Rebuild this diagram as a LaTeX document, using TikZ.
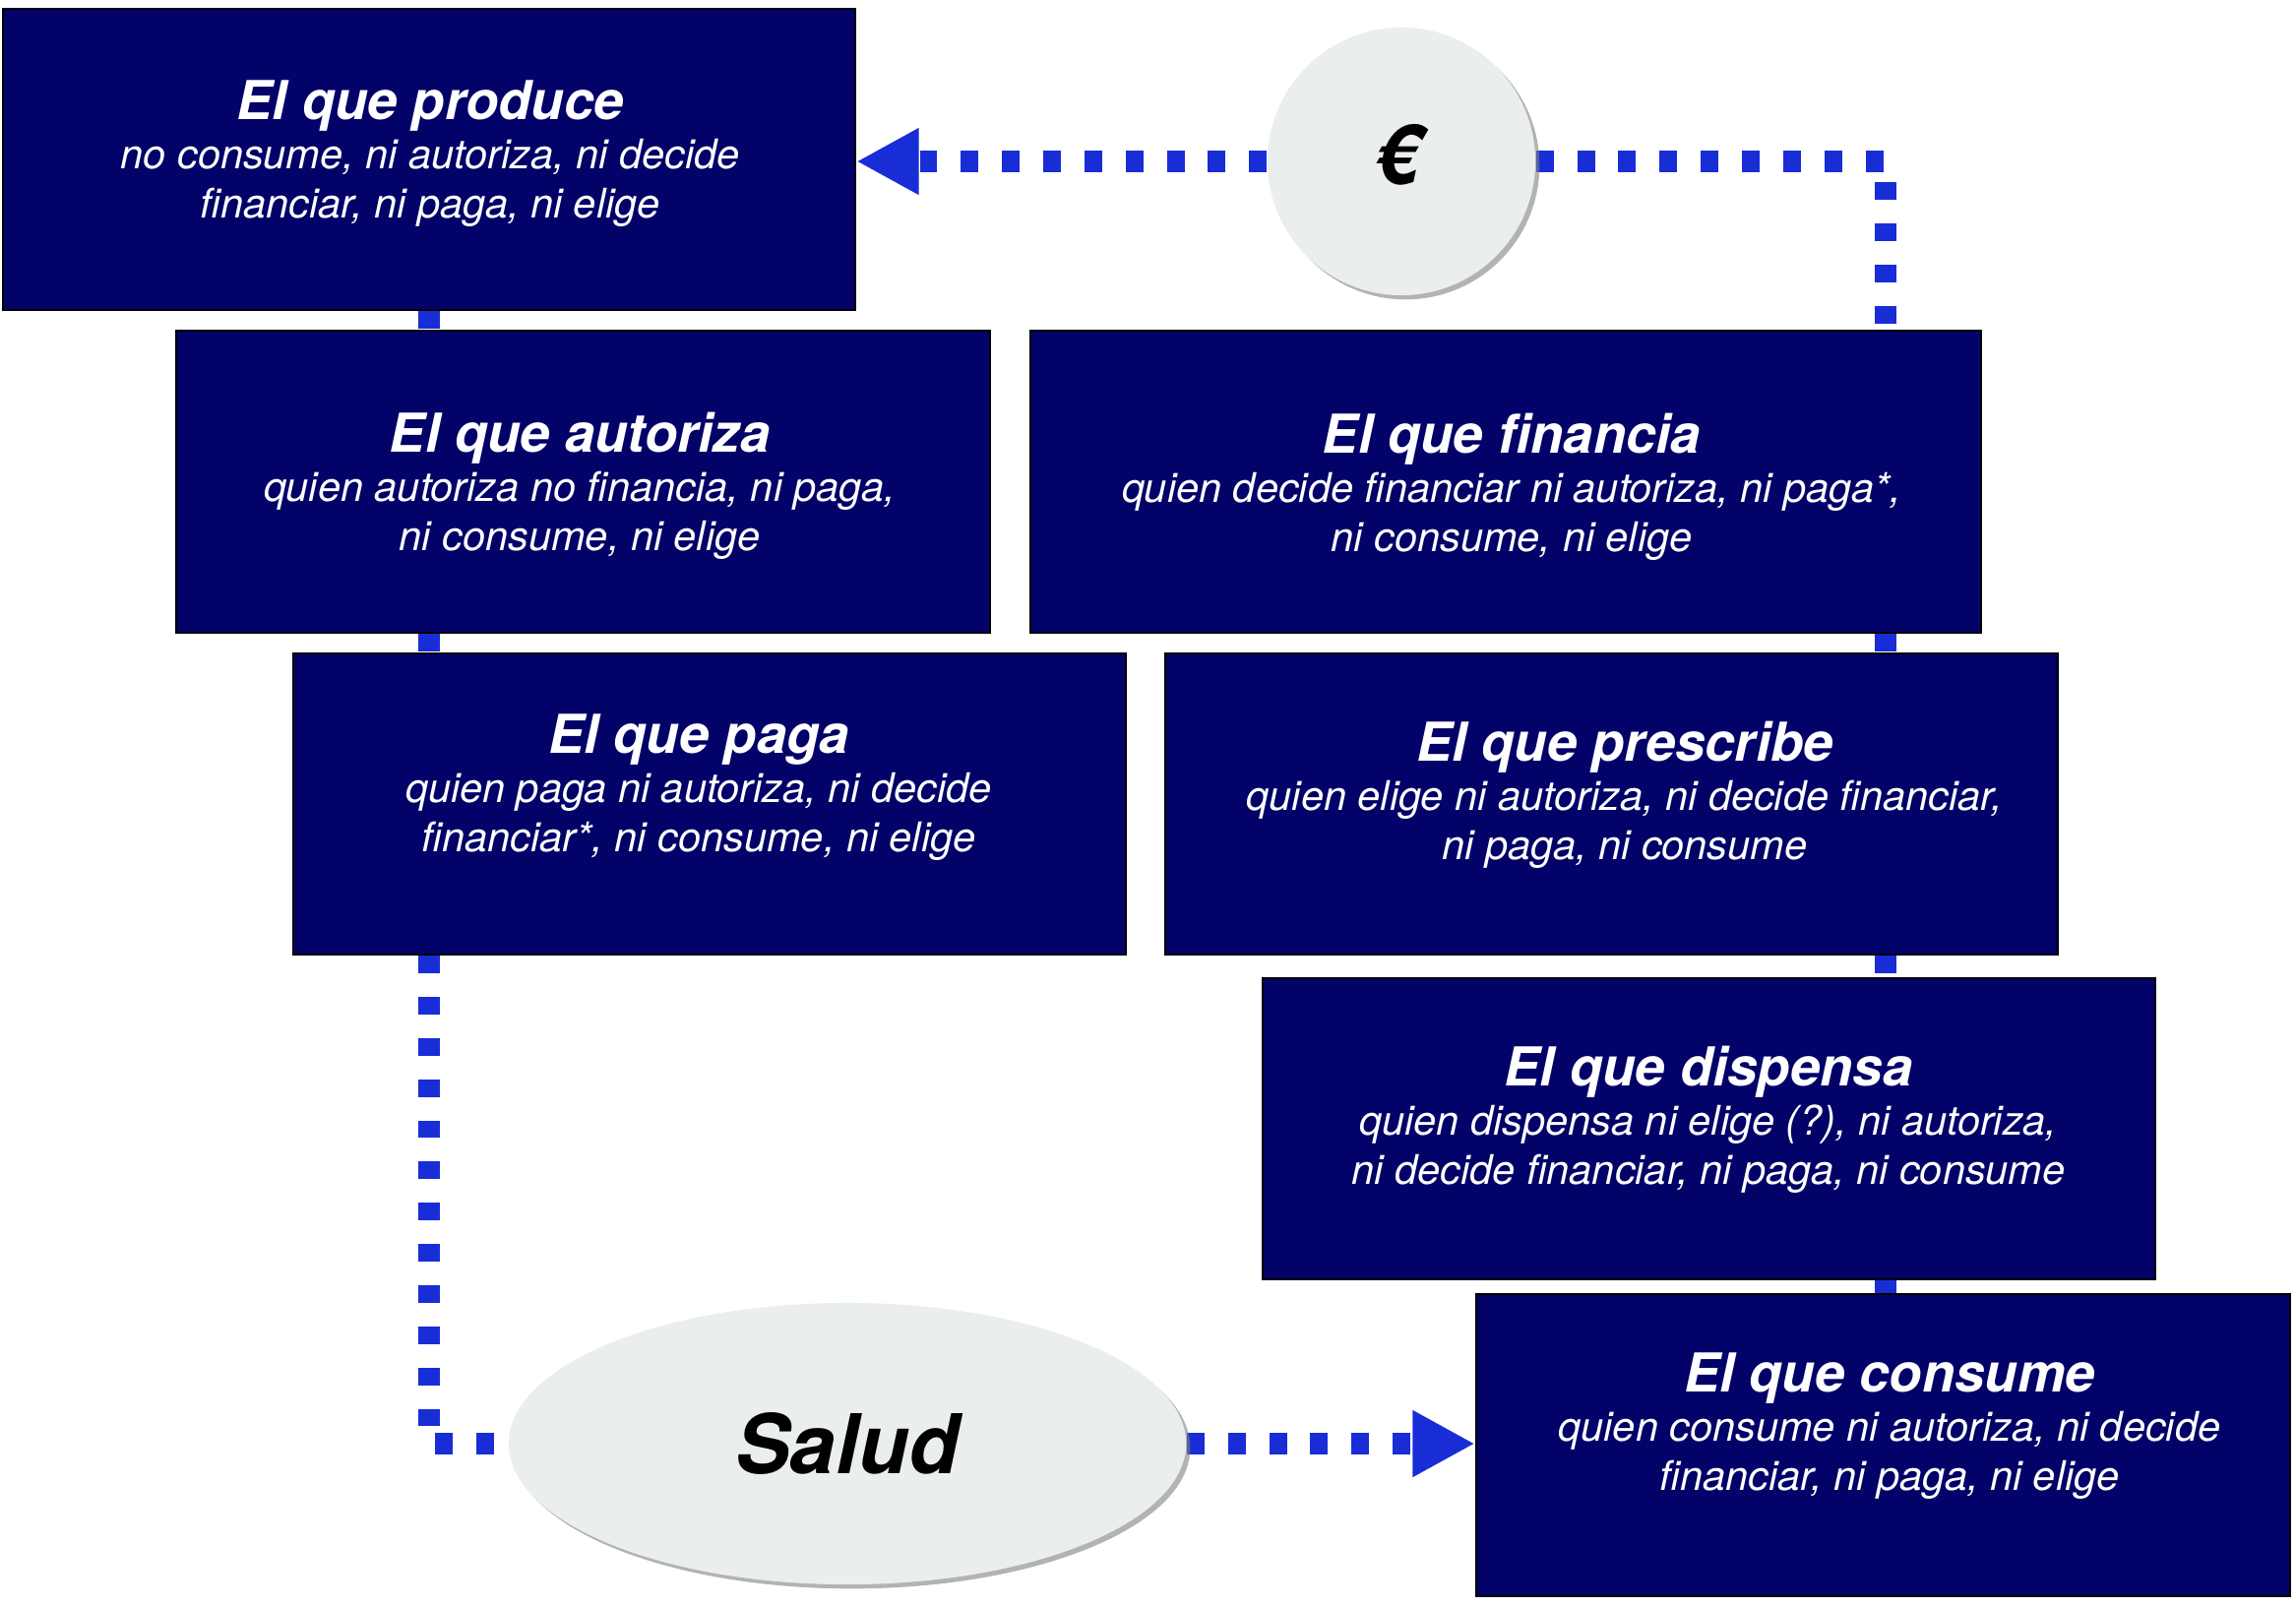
\documentclass[tikz,border=0pt]{standalone}
\usepackage{fontspec}
\setmainfont{TeX Gyre Heros}
\usetikzlibrary{arrows.meta,shadows,shapes.geometric,calc}
\pgfdeclarelayer{background}
\pgfsetlayers{background,main}
\definecolor{navy}{RGB}{2,2,104}
\definecolor{dotblue}{RGB}{25,45,215}
\definecolor{bubble}{RGB}{234,238,237}
\newcommand\boxtitle[1]{{\fontsize{15.5}{14.2}\selectfont\bfseries #1}}
\begin{document}
\begin{tikzpicture}[x=0.01cm,y=-0.01cm,
  box/.style={rectangle,fill=navy,draw=black,line width=0.6pt,inner sep=0pt},
  boxtext/.style={text=white,align=center,inner sep=0pt,font=\fontsize{11.8}{14.2}\selectfont\itshape},
  bubblestyle/.style={fill=bubble,draw=none,inner sep=0pt,
    drop shadow={shadow xshift=1.2pt,shadow yshift=-1.2pt,fill=gray,opacity=0.6}},
  link/.style={draw=dotblue,line width=6pt,dash pattern=on 5.1pt off 6.8pt},
  tip/.style={-{Triangle[length=18pt,width=18pt]}}
]
\useasboundingbox (0,0) rectangle (2333,1632);

% boxes
\node[box,minimum width=8.66cm,minimum height=3.06cm] (produce) at (436,162) {};
\node[box,minimum width=8.27cm,minimum height=3.07cm] (autoriza) at (592.5,489.5) {};
\node[box,minimum width=9.66cm,minimum height=3.07cm] (financia) at (1530,489.5) {};
\node[box,minimum width=8.46cm,minimum height=3.06cm] (paga) at (721,817) {};
\node[box,minimum width=9.07cm,minimum height=3.06cm] (prescribe) at (1637.5,817) {};
\node[box,minimum width=9.07cm,minimum height=3.06cm] (dispensa) at (1736.5,1147) {};
\node[box,minimum width=8.27cm,minimum height=3.07cm] (consume) at (1913.5,1468.5) {};

% box texts
\node[boxtext] (producet) at (437,156) {\boxtitle{El que produce}\\no consume, ni autoriza, ni decide\\financiar, ni paga, ni elige};
\node[boxtext] (autorizat) at (589,494) {\boxtitle{El que autoriza}\\quien autoriza no financia, ni paga,\\ni consume, ni elige};
\node[boxtext] (financiat) at (1536,495) {\boxtitle{El que financia}\\quien decide financiar ni autoriza, ni paga*,\\ni consume, ni elige};
\node[boxtext] (pagat) at (710,800) {\boxtitle{El que paga}\\quien paga ni autoriza, ni decide\\financiar*, ni consume, ni elige};
\node[boxtext] (prescribet) at (1651,808) {\boxtitle{El que prescribe}\\quien elige ni autoriza, ni decide financiar,\\ni paga, ni consume};
\node[boxtext] (dispensat) at (1736,1138) {\boxtitle{El que dispensa}\\quien dispensa ni elige (?), ni autoriza,\\ni decide financiar, ni paga, ni consume};
\node[boxtext] (consumet) at (1920,1449) {\boxtitle{El que consume}\\quien consume ni autoriza, ni decide\\financiar, ni paga, ni elige};

% bubbles
\node[bubblestyle,circle,minimum size=2.72cm] (euro) at (1424,164)
  {\fontsize{24}{24}\selectfont\bfseries\itshape\raisebox{4pt}{€}};
\node[bubblestyle,ellipse,minimum width=6.88cm,minimum height=2.86cm] (salud) at (861,1467)
  {\fontsize{23.8}{24}\selectfont\bfseries\itshape Salud};

% connectors
\coordinate (lx) at (436,0);
\coordinate (rx) at (1916,0);
\coordinate (ecorner) at (1916,164);
\begin{pgfonlayer}{background}
\draw[link,tip] (euro.west) -- (euro.west -| produce.east);
\draw[link] (euro.east) -- (ecorner) -- (ecorner |- financia.north);
\draw[link] (produce.south -| lx) -- (autoriza.north -| lx);
\draw[link] (autoriza.south -| lx) -- (paga.north -| lx);
\draw[link] (paga.south -| lx) -- (lx |- salud.west) -- (salud.west);
\draw[link] (financia.south -| rx) -- (prescribe.north -| rx);
\draw[link] (prescribe.south -| rx) -- (dispensa.north -| rx);
\draw[link] (dispensa.south -| rx) -- (consume.north -| rx);
\draw[link,tip] (salud.east) -- (salud.east -| consume.west);
\end{pgfonlayer}
\end{tikzpicture}
\end{document}
